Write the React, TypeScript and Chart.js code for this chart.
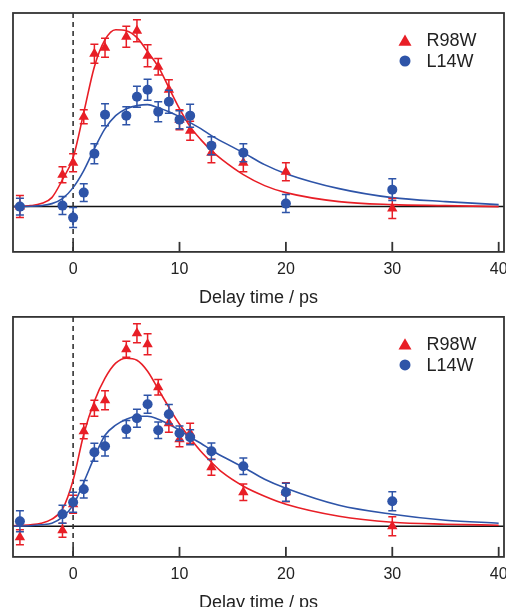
import { useEffect, useRef } from 'react';
import { Chart, registerables } from 'chart.js';

Chart.register(...registerables);

// ---------- data ----------
const delayTimes = [-5, -1, 0, 1, 2, 3, 5, 6, 7, 8, 9, 10, 11, 13, 16, 20, 30];
const xTickValues = [0, 10, 20, 30, 40];
const seriesNames = ['R98W', 'L14W'];
const axisTitle = 'Delay time / ps';

// upper panel
const upperR98W = [0, 32, 44, 90, 153, 159, 170, 176, 151, 140, 117, 87, 76, 54, 44, 35, -2];
const upperR98WErr = [11, 8, 9, 7, 9.5, 9.5, 10.5, 11, 11, 8.3, 10, 10, 9.5, 10, 9, 9, 10];
const upperL14W = [0, 1, -11, 14, 53, 92, 91, 110, 117, 95, 105, 87, 91, 61, 54, 3, 17];
const upperL14WErr = [8.3, 9, 10, 9, 10, 11, 9, 10.5, 10.5, 10, 11.5, 9, 11.5, 9, 9, 9, 11];

// lower panel
const lowerR98W = [-11, -4, 22, 95, 118, 126, 177, 193, 182, 139, 103, 87, 93, 59, 34, 34, 0];
const lowerR98WErr = [7.5, 7, 9, 7.5, 8, 9.5, 8, 9.5, 10.5, 7.7, 9, 7.5, 10, 8, 8.3, 9.5, 9.5];
const lowerL14W = [5, 12, 24, 37, 74, 80, 97, 108, 122, 96, 112, 93, 89, 75, 60, 34, 25];
const lowerL14WErr = [10.5, 9, 10, 8.7, 9, 9.7, 8.7, 9, 9, 8.3, 9.7, 7.3, 7.5, 8.3, 8.3, 9, 9.5];

// fitted curves
const fitTimes = [-5.65, -4, -3, -2, -1, 0, 1, 2, 3, 4, 5, 6, 7, 8, 9, 10, 11, 12, 13, 14, 16, 18, 20, 25, 30, 35, 40];
const upperR98WFit = [0, 1, 3, 9, 27, 49, 94, 140, 167, 177, 176, 169, 155, 140, 119, 98, 80, 67, 56, 47, 32, 21, 14, 5, 2, 1, 0];
const upperL14WFit = [0, 0.3, 1, 3, 8, 19, 36, 58, 78, 91, 98, 101, 102, 99, 95, 90, 84, 78, 71, 65, 54, 42, 33, 18, 9, 5, 2];
const lowerR98WFit = [0.5, 1.5, 3, 7, 17, 46, 92, 125, 148, 163, 168, 166, 155, 137, 119, 102, 88, 75, 64, 54, 40, 30, 22, 10, 4, 2, 1];
const lowerL14WFit = [0, 0.5, 1.5, 3, 9, 21, 44, 69, 91, 101, 107, 110, 110, 107, 102, 96, 89, 83, 76, 70, 59, 47, 38, 21, 12, 6, 3];

const X_MIN = -5.65;
const X_MAX = 40.5;

const RED = 'rgb(232, 30, 38)';
const BLUE = 'rgb(46, 84, 168)';
const FONT = '"Liberation Sans", Arial, Helvetica, sans-serif';
const INK = '#222';
const FRAME = '#333';

const toPts = (xs: number[], ys: number[]) => xs.map((x, i) => ({ x, y: ys[i] }));

const decorPlugin = {
  id: 'decor',
  beforeDatasetsDraw(chart: any) {
    const { ctx, chartArea: a, scales } = chart;
    const x = scales.x;
    const y = scales.y;
    ctx.save();
    const y0 = y.getPixelForValue(0);
    ctx.strokeStyle = '#111';
    ctx.lineWidth = 1.5;
    ctx.beginPath();
    ctx.moveTo(a.left, y0);
    ctx.lineTo(a.right, y0);
    ctx.stroke();
    const x0 = x.getPixelForValue(0);
    ctx.setLineDash([5, 4]);
    ctx.strokeStyle = '#333';
    ctx.lineWidth = 1.6;
    ctx.beginPath();
    ctx.moveTo(x0, a.top);
    ctx.lineTo(x0, a.bottom);
    ctx.stroke();
    ctx.restore();
  },
  beforeDatasetDraw(chart: any, args: any) {
    const ds = chart.data.datasets[args.index];
    if (!ds.errors) return;
    const { ctx } = chart;
    const y = chart.scales.y;
    const meta = args.meta;
    ctx.save();
    ctx.strokeStyle = ds.backgroundColor;
    ctx.lineWidth = 1.5;
    ds.data.forEach((p: any, i: number) => {
      const el = meta.data[i];
      if (!el) return;
      const px = el.x;
      const top = y.getPixelForValue(p.y + ds.errors[i]);
      const bot = y.getPixelForValue(p.y - ds.errors[i]);
      ctx.beginPath();
      ctx.moveTo(px, top);
      ctx.lineTo(px, bot);
      ctx.moveTo(px - 4, top);
      ctx.lineTo(px + 4, top);
      ctx.moveTo(px - 4, bot);
      ctx.lineTo(px + 4, bot);
      ctx.stroke();
    });
    ctx.restore();
  },
  afterDraw(chart: any) {
    const { ctx, chartArea: a } = chart;
    const x = chart.scales.x;
    ctx.save();
    ctx.strokeStyle = FRAME;
    ctx.lineWidth = 1.8;
    ctx.strokeRect(a.left, a.top, a.right - a.left, a.bottom - a.top);
    x.ticks.forEach((t: any) => {
      const px = x.getPixelForValue(t.value);
      ctx.beginPath();
      ctx.moveTo(px, a.bottom);
      ctx.lineTo(px, a.bottom - 10);
      ctx.stroke();
    });
    const mx = a.right - 99;
    const tx = a.right - 77.5;
    const scatter = chart.data.datasets.filter((d: any) => d.errors);
    scatter.forEach((d: any, i: number) => {
      const cy = a.top + 27 + i * 21;
      ctx.fillStyle = d.backgroundColor;
      ctx.beginPath();
      if (d.pointStyle === 'triangle') {
        const r = 7.5;
        const c = cy + r / 4;
        for (let k = 0; k < 3; k++) {
          const ang = (k * 2 * Math.PI) / 3;
          const vx = mx + Math.sin(ang) * r;
          const vy = c - Math.cos(ang) * r;
          if (k === 0) ctx.moveTo(vx, vy);
          else ctx.lineTo(vx, vy);
        }
        ctx.closePath();
      } else {
        ctx.arc(mx, cy, 5.5, 0, Math.PI * 2);
      }
      ctx.fill();
      ctx.fillStyle = INK;
      ctx.font = `18px ${FONT}`;
      ctx.textBaseline = 'middle';
      ctx.textAlign = 'left';
      ctx.fillText(d.label, tx, cy + 1);
    });
    ctx.restore();
  },
};

type PanelCfg = {
  top: number;
  padTop: number;
  yMin: number;
  yMax: number;
  r98w: number[];
  r98wErr: number[];
  l14w: number[];
  l14wErr: number[];
  r98wFit: number[];
  l14wFit: number[];
};

function Panel({ cfg }: { cfg: PanelCfg }) {
  const ref = useRef<HTMLCanvasElement>(null);
  useEffect(() => {
    const chart = new Chart(ref.current as HTMLCanvasElement, {
      type: 'scatter',
      data: {
        datasets: [
          {
            type: 'line',
            label: 'fit ' + seriesNames[0],
            data: toPts(fitTimes, cfg.r98wFit),
            borderColor: RED,
            borderWidth: 1.6,
            pointRadius: 0,
            cubicInterpolationMode: 'monotone',
            fill: false,
            order: 4,
          } as any,
          {
            type: 'line',
            label: 'fit ' + seriesNames[1],
            data: toPts(fitTimes, cfg.l14wFit),
            borderColor: BLUE,
            borderWidth: 1.6,
            pointRadius: 0,
            cubicInterpolationMode: 'monotone',
            fill: false,
            order: 3,
          } as any,
          {
            type: 'scatter',
            label: seriesNames[0],
            data: toPts(delayTimes, cfg.r98w),
            errors: cfg.r98wErr,
            pointStyle: 'triangle',
            pointRadius: 6,
            backgroundColor: RED,
            borderColor: RED,
            borderWidth: 0,
            order: 2,
          } as any,
          {
            type: 'scatter',
            label: seriesNames[1],
            data: toPts(delayTimes, cfg.l14w),
            errors: cfg.l14wErr,
            pointStyle: 'circle',
            pointRadius: 5,
            backgroundColor: BLUE,
            borderColor: BLUE,
            borderWidth: 0,
            order: 1,
          } as any,
        ],
      },
      options: {
        animation: false,
        responsive: false,
        devicePixelRatio: 1,
        events: [],
        layout: { autoPadding: false, padding: { left: 13, right: 2, top: cfg.padTop, bottom: 0 } },
        plugins: { legend: { display: false }, tooltip: { enabled: false } },
        scales: {
          x: {
            type: 'linear',
            min: X_MIN,
            max: X_MAX,
            grid: { display: false, drawTicks: false },
            border: { display: false },
            afterBuildTicks: (s: any) => {
              s.ticks = xTickValues.map((v) => ({ value: v }));
            },
            afterFit: (s: any) => {
              s.paddingLeft = 0;
              s.paddingRight = 0;
            },
            ticks: {
              autoSkip: false,
              maxRotation: 0,
              padding: 8.15,
              color: INK,
              font: { family: FONT, size: 16, lineHeight: 1.2 },
            },
            title: {
              display: true,
              text: axisTitle,
              color: INK,
              padding: 0,
              font: { family: FONT, size: 18, lineHeight: 1.2 },
            },
          },
          y: {
            type: 'linear',
            display: false,
            min: cfg.yMin,
            max: cfg.yMax,
          },
        },
      } as any,
      plugins: [decorPlugin],
    });
    return () => chart.destroy();
  }, [cfg]);
  return (
    <canvas
      ref={ref}
      width={506}
      height={309}
      style={{ position: 'absolute', left: 0, top: cfg.top, width: 506, height: 309 }}
    />
  );
}

const upperCfg: PanelCfg = {
  top: 0,
  padTop: 13,
  yMin: -45.3,
  yMax: 193.7,
  r98w: upperR98W,
  r98wErr: upperR98WErr,
  l14w: upperL14W,
  l14wErr: upperL14WErr,
  r98wFit: upperR98WFit,
  l14wFit: upperL14WFit,
};

const lowerCfg: PanelCfg = {
  top: 304.8,
  padTop: 11.9,
  yMin: -30.7,
  yMax: 209.3,
  r98w: lowerR98W,
  r98wErr: lowerR98WErr,
  l14w: lowerL14W,
  l14wErr: lowerL14WErr,
  r98wFit: lowerR98WFit,
  l14wFit: lowerL14WFit,
};

export default function App() {
  return (
    <div style={{ position: 'absolute', left: 0, top: 0, width: 506, height: 607, overflow: 'hidden', background: '#fff' }}>
      <Panel cfg={upperCfg} />
      <Panel cfg={lowerCfg} />
    </div>
  );
}
